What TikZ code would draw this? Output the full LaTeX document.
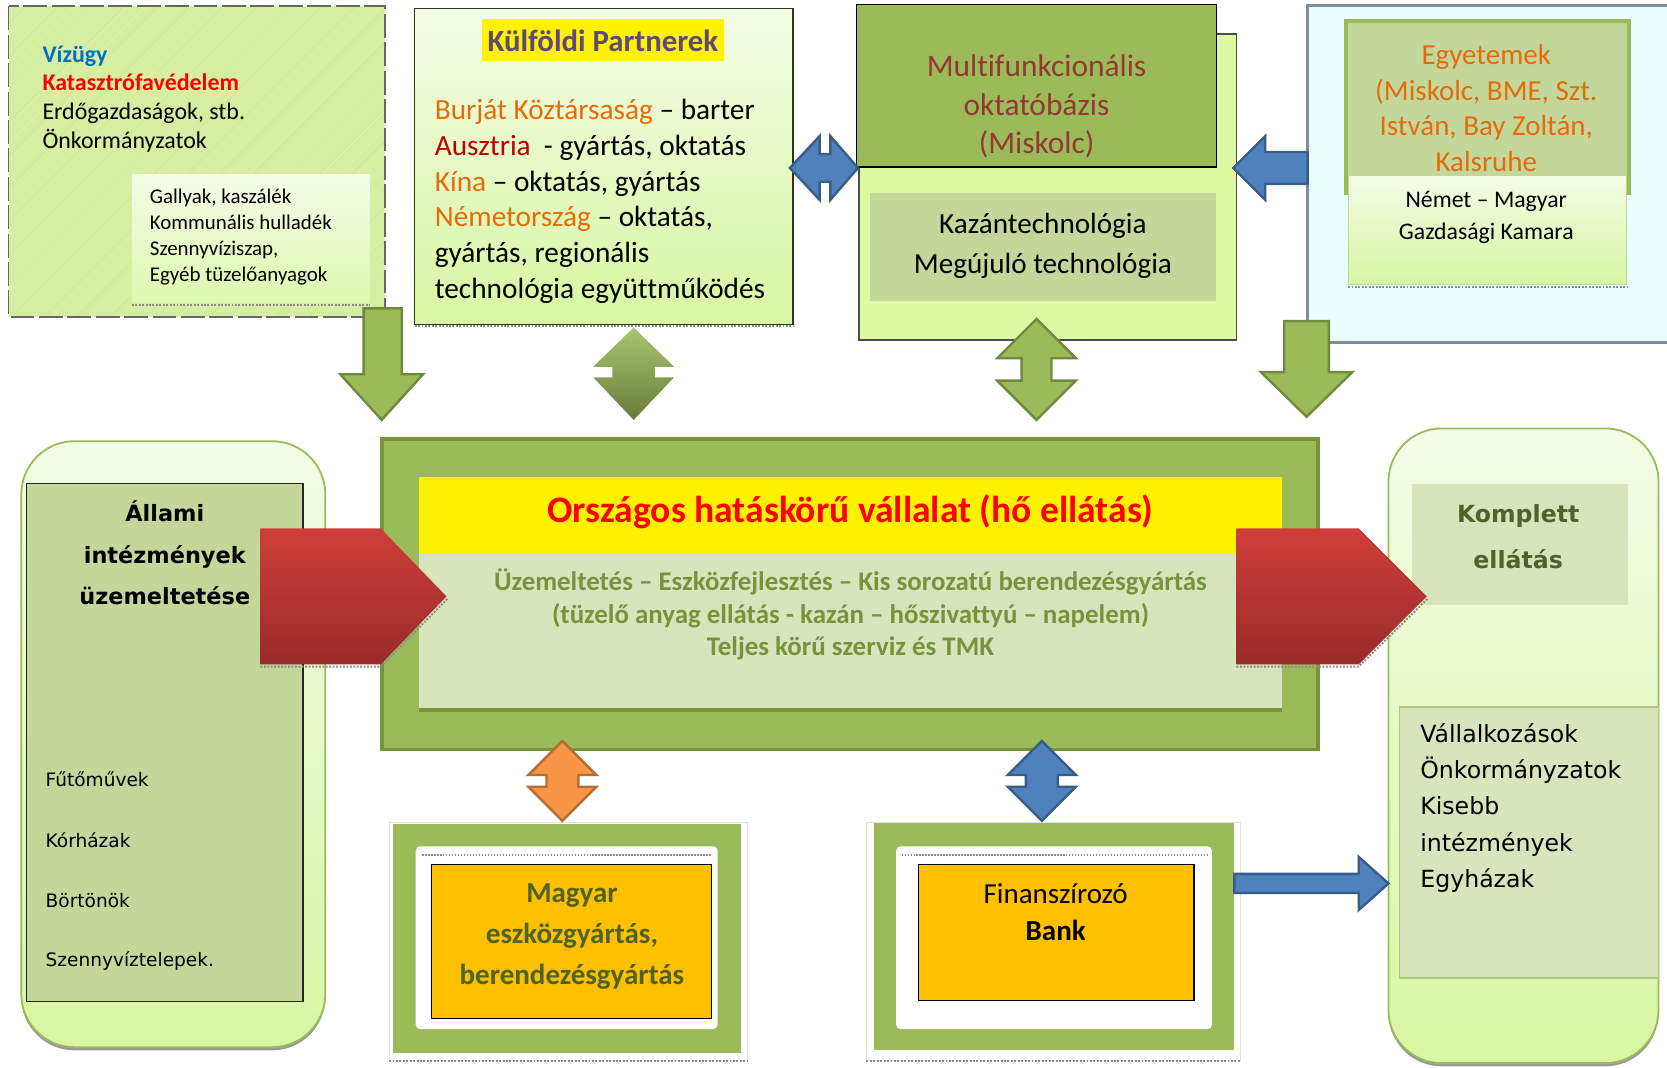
\documentclass[tikz,border=0pt]{standalone}
\usepackage{fontspec}
\setmainfont[Ligatures=CommonOff]{Carlito}
\newfontfamily\verd{DejaVu Sans}
\definecolor{gA}{HTML}{9BBB59}
\definecolor{gAd}{HTML}{71893F}
\definecolor{gAdd}{HTML}{77933C}
\definecolor{gB}{HTML}{C4D79B}
\definecolor{gC}{HTML}{D8E4BC}
\definecolor{lgTop}{HTML}{F3FCE6}
\definecolor{lgBot}{HTML}{D8F6A2}
\definecolor{texG}{HTML}{D6EEA0}
\definecolor{multiL}{HTML}{DFF9A2}
\definecolor{cyanL}{HTML}{E9FEFD}
\definecolor{cyanB}{HTML}{7F8C99}
\definecolor{blueF}{HTML}{4F81BD}
\definecolor{blueD}{HTML}{385D8A}
\definecolor{orF}{HTML}{F79646}
\definecolor{orD}{HTML}{B66D31}
\definecolor{goldF}{HTML}{FFC000}
\definecolor{txOr}{HTML}{E46C0A}
\definecolor{txRed}{HTML}{C00000}
\definecolor{txBlue}{HTML}{0070C0}
\definecolor{txPurp}{HTML}{5F497A}
\definecolor{txMulti}{HTML}{953735}
\definecolor{txOl}{HTML}{77933C}
\definecolor{txDk}{HTML}{4F6228}
\definecolor{redT}{HTML}{CF3E3B}
\definecolor{redB}{HTML}{982B29}
\tikzset{
  bx/.style={anchor=north west, inner sep=0pt, outer sep=0pt},
  tx/.style={inner sep=0pt, outer sep=0pt},
  garr/.style={fill=gA, draw=gAd, line width=1.6pt, line join=miter},
  barr/.style={fill=blueF, draw=blueD, line width=1.6pt, line join=miter},
  oarr/.style={fill=orF, draw=orD, line width=1.6pt, line join=miter},
  shadowline/.style={black!45, densely dotted, line width=1.3pt},
}
% box: name, x1, y1, x2, y2, style
\newcommand\bx[6]{\node[bx,#6,minimum width={(#4-#2)*0.025cm},minimum height={(#5-#3)*0.025cm}] (#1) at (#2,#3) {};}
% vertical double arrow: style, cx, ytop, ybot, shaft half, head half, head len top, head len bottom
\newcommand\vdarr[8]{\draw[#1] (#2,#3) -- ({#2+#6},{#3+#7}) -- ({#2+#5},{#3+#7}) -- ({#2+#5},{#4-#8}) -- ({#2+#6},{#4-#8}) -- (#2,#4) -- ({#2-#6},{#4-#8}) -- ({#2-#5},{#4-#8}) -- ({#2-#5},{#3+#7}) -- ({#2-#6},{#3+#7}) -- cycle;}
\begin{document}
\begin{tikzpicture}[x=0.025cm,y=-0.025cm]
\useasboundingbox (0,0) rectangle (1568,1004);
\fill[white] (0,0) rectangle (1568,1004);
\clip (0,0) rectangle (1568,1004);

% ---------- top left source box ----------
\bx{src}{8}{6}{362}{298}{fill=texG}
\begin{scope}
  \clip (8,6) rectangle (362,298);
  \foreach \i in {-320,-303,...,380} {
    \draw[white, opacity=0.16, line width=0.6pt] (\i,310) -- ++(320,-320);
  }
  \foreach \i in {-311,-280,...,380} {
    \draw[gA, opacity=0.12, line width=0.5pt] (\i,310) -- ++(320,-320);
  }
\end{scope}
\draw[black!60, line width=1.2pt, dash pattern=on 16pt off 3pt] (src.north west) rectangle (src.south east);
\bx{srcbox}{124}{164}{348}{285}{top color=lgTop, bottom color=lgBot!85!white}
\draw[shadowline] (124,287) -- (348,287);
\node[tx, anchor=west, align=left, font={\fontsize{16pt}{19.2pt}\selectfont}] (srctxt) at (40,93)
  {\textcolor{txBlue}{\textbf{Vízügy}}\\\textcolor{red}{\textbf{Katasztrófavédelem}}\\Erdőgazdaságok, stb.\\Önkormányzatok};
\node[tx, anchor=west, align=left, font={\fontsize{14pt}{17.4pt}\selectfont}] (srcboxtxt) at (141,223)
  {Gallyak, kaszálék\\Kommunális hulladék\\Szennyvíziszap,\\Egyéb tüzelőanyagok};

% ---------- Külföldi Partnerek ----------
\bx{kulf}{390}{8}{746}{305}{top color=lgTop, bottom color=lgBot, draw=black!60!gAd, line width=0.9pt}
\draw[shadowline] (390,307) -- (746,307);
\bx{kulfhl}{453}{18}{681}{57}{fill=yellow}
\node[tx, text=txPurp, font={\bfseries\fontsize{20.6pt}{24pt}\selectfont}] (kulftitle) at (567,38) {Külföldi Partnerek};
\node[tx, anchor=west, align=left, font={\fontsize{19.6pt}{23.9pt}\selectfont}] (kulftxt) at (409,189.5)
  {\textcolor{txOr}{Burját Köztársaság} – barter\\\textcolor{txRed}{Ausztria}\ \ - gyártás, oktatás\\\textcolor{txOr}{Kína} – oktatás, gyártás\\\textcolor{txOr}{Németország} – oktatás,\\gyártás, regionális\\technológia együttműködés};

% ---------- Multifunkcionális ----------
\bx{multiback}{808}{32}{1163}{320}{fill=multiL, draw=black!70, line width=1pt}
\bx{multi}{806}{4}{1144}{157}{fill=gA, draw=black, line width=0.8pt}
\bx{kazan}{818}{182}{1144}{283}{fill=gB}
\node[tx, align=center, text=txMulti, font={\fontsize{21pt}{25.8pt}\selectfont}] (multitxt) at (975,100)
  {Multifunkcionális\\oktatóbázis\\(Miskolc)};
\node[tx, align=center, font={\fontsize{19.5pt}{27pt}\selectfont}] (kazantxt) at (981,231)
  {Kazántechnológia\\Megújuló technológia};

% ---------- Egyetemek ----------
\bx{univbg}{1230}{5}{1620}{322}{fill=cyanL, draw=cyanB, line width=2pt}
\bx{univ}{1266}{20}{1532}{182}{fill=gB, draw=gA, line width=2.5pt}
\bx{kamara}{1268}{165}{1530}{268}{top color=lgTop, bottom color=lgBot, draw=gA!60, line width=0.6pt}
\draw[shadowline] (1268,270) -- (1530,270);
\node[tx, align=center, text=txOr, font={\fontsize{19.4pt}{23.8pt}\selectfont}] (univtxt) at (1398,101.5)
  {Egyetemek\\(Miskolc, BME, Szt.\\István, Bay Zoltán,\\Kalsruhe};
\node[tx, align=center, font={\fontsize{15.9pt}{22pt}\selectfont}] (kamaratxt) at (1398,204.5)
  {Német – Magyar\\Gazdasági Kamara};

% ---------- central company ----------
\bx{corp}{359}{413}{1240}{705}{fill=gA, draw=gAdd, line width=2.5pt}
\bx{corpin}{394}{449}{1206}{666}{fill=gC}
\draw[gAdd, line width=2.5pt] (394,668) -- (1206,668);
\bx{corptitle}{394}{449}{1206}{521}{fill=yellow}
\node[tx, text=red, font={\bfseries\fontsize{25.1pt}{29pt}\selectfont}] (corptitletxt) at (800,481)
  {Országos hatáskörű vállalat (hő ellátás)};
\node[tx, align=center, text=txOl, font={\bfseries\fontsize{18pt}{21.7pt}\selectfont}] (corptxt) at (800,578)
  {Üzemeltetés – Eszközfejlesztés – Kis sorozatú berendezésgyártás\\(tüzelő anyag ellátás - kazán – hőszivattyú – napelem)\\Teljes körű szerviz és TMK};

% ---------- left rounded box ----------
\bx{stateshadow}{20}{418}{306}{988}{rounded corners=1.25cm, fill=black!40}
\bx{state}{20}{415}{306}{985}{rounded corners=1.25cm, top color=lgTop, bottom color=lgBot, draw=gA, line width=1.2pt}
\bx{statein}{25}{455}{285}{942}{fill=gB, draw=black!85, line width=0.8pt}
\node[tx, align=center, font={\verd\bfseries\fontsize{15pt}{27.7pt}\selectfont}] (statetitle) at (155,520)
  {Állami\\intézmények\\üzemeltetése};
\node[tx, anchor=west, font={\verd\fontsize{12.4pt}{15pt}\selectfont}] (s1) at (43,733) {Fűtőművek};
\node[tx, anchor=west, font={\verd\fontsize{12.4pt}{15pt}\selectfont}] (s2) at (43,790) {Kórházak};
\node[tx, anchor=west, font={\verd\fontsize{12.4pt}{15pt}\selectfont}] (s3) at (43,847) {Börtönök};
\node[tx, anchor=west, font={\verd\fontsize{12.4pt}{15pt}\selectfont}] (s4) at (43,904) {Szennyvíztelepek.};

% ---------- right rounded box ----------
\bx{clientshadow}{1306}{406}{1560}{1003}{rounded corners=1.25cm, fill=black!40}
\bx{client}{1306}{403}{1560}{1000}{rounded corners=1.25cm, top color=lgTop, bottom color=lgBot, draw=gA, line width=1.2pt}
\bx{clienttop}{1328}{455}{1531}{569}{fill=gC}
\bx{clientin}{1316}{665}{1560}{920}{fill=gC, draw=gA!80, line width=0.8pt}
\node[tx, align=center, text=txDk, font={\verd\bfseries\fontsize{15.8pt}{30.6pt}\selectfont}] (clienttitle) at (1428,504.5)
  {Komplett\\ellátás};
\node[tx, anchor=west, align=left, font={\verd\fontsize{15.8pt}{24.2pt}\selectfont}] (clienttxt) at (1336,760)
  {Vállalkozások\\Önkormányzatok\\Kisebb\\intézmények\\Egyházak};

% ---------- bottom boxes ----------
\bx{mfgframe}{366}{774}{703}{997}{fill=white, draw=black!12, line width=0.5pt}
\draw[shadowline] (366,998) -- (703,998);
\bx{mfgg}{370}{775}{697}{990}{fill=gA}
\bx{mfgw}{391}{796}{675}{968}{fill=white, rounded corners=3pt}
\draw[shadowline, line width=1pt] (397,804) -- (669,804);
\bx{mfg}{406}{813}{669}{958}{fill=goldF, draw=black, line width=0.8pt}
\node[tx, align=center, text=txDk, font={\bfseries\fontsize{19.4pt}{27.4pt}\selectfont}] (mfgtxt) at (538,881)
  {Magyar\\eszközgyártás,\\berendezésgyártás};

\bx{bankframe}{815}{774}{1167}{997}{fill=white, draw=black!12, line width=0.5pt}
\draw[shadowline] (815,998) -- (1167,998);
\bx{bankg}{822}{774}{1161}{988}{fill=gA}
\bx{bankw}{843}{796}{1140}{968}{fill=white, rounded corners=3pt}
\draw[shadowline, line width=1pt] (848,804) -- (1135,804);
\bx{bank}{864}{813}{1123}{941}{fill=goldF, draw=black, line width=0.8pt}
\node[tx, align=center, font={\fontsize{19.4pt}{24.2pt}\selectfont}] (banktxt) at (993,858)
  {Finanszírozó\\\textbf{Bank}};

% ---------- block arrows ----------
% src -> corp (down)
\draw[garr] (342,290) -- (378,290) -- (378,352) -- (398,352) -- (359,395) -- (320,352) -- (342,352) -- cycle;
% kulf <-> corp (gradient)
\vdarr{top color=gA!85!white, bottom color=gAd!90!black, draw=none}{596}{308}{395}{20}{38}{37}{40}
% kulf <-> multi
\draw[barr] (743,158) -- (771,128) -- (771,145) -- (781,145) -- (781,128) -- (807,158) -- (781,188) -- (781,171) -- (771,171) -- (771,188) -- cycle;
% univ -> multi
\draw[barr] (1160,158) -- (1190,128) -- (1190,143) -- (1230,143) -- (1230,173) -- (1190,173) -- (1190,188) -- cycle;
% multi <-> corp
\vdarr{garr}{975}{300}{395}{14}{37}{37}{37}
% univ -> corp (down)
\draw[garr] (1208,302) -- (1250,302) -- (1250,350) -- (1272,350) -- (1229,392) -- (1186,350) -- (1208,350) -- cycle;
% corp <-> mfg
\vdarr{oarr}{529}{697}{772}{15}{32}{32}{32}
% corp <-> bank
\vdarr{barr}{980}{697}{772}{15}{32}{32}{32}
% bank -> client
\draw[barr] (1161,822) -- (1278,822) -- (1278,806) -- (1306,831) -- (1278,856) -- (1278,840) -- (1161,840) -- cycle;
% red arrows
\draw[shadowline] (245,627) -- (358,627) -- (421,563);
\shade[top color=redT, bottom color=redB] (245,497) -- (358,497) -- (420,561) -- (358,625) -- (245,625) -- cycle;
\draw[shadowline] (1163,627) -- (1278,627) -- (1343,563);
\shade[top color=redT, bottom color=redB] (1163,497) -- (1278,497) -- (1342,561) -- (1278,625) -- (1163,625) -- cycle;
\end{tikzpicture}
\end{document}
